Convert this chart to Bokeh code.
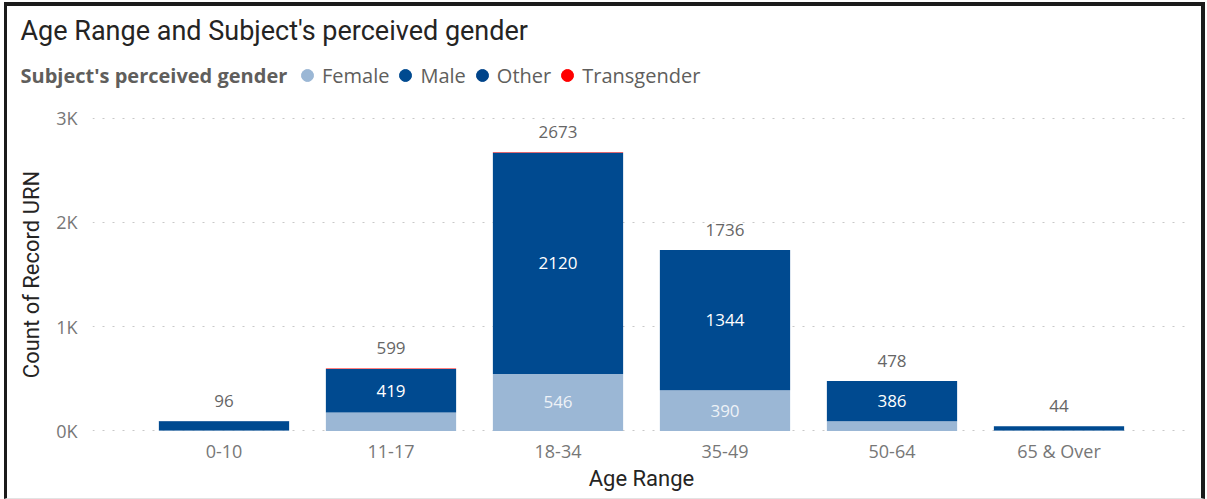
from bokeh.plotting import figure
from bokeh.layouts import column, row
from bokeh.models import (ColumnDataSource, FactorRange, Range1d, FixedTicker, Label,
                          Legend, LegendItem, LabelSet, InlineStyleSheet)
from bokeh.core.properties import value
from bokeh.embed import file_html
from bokeh.resources import INLINE

# ---- data ----
age_ranges = ["0-10", "11-17", "18-34", "35-49", "50-64", "65 & Over"]
female = [5, 176, 546, 390, 92, 4]
male = [89, 419, 2120, 1344, 386, 40]
other = [2, 0, 2, 1, 0, 0]
transgender = [0, 4, 5, 1, 0, 0]
series_names = ["Female", "Male", "Other", "Transgender"]
y_ticks = [0, 1000, 2000, 3000]
y_tick_labels = ["0K", "1K", "2K", "3K"]

colors = ["#9BB7D5", "#004A90", "#00448A", "#FF0000"]
FONT = "Open Sans"
TFONT = "Roboto"
W = 1207

totals = [f + m + o + t for f, m, o, t in zip(female, male, other, transgender)]

src = ColumnDataSource(dict(age=age_ranges, Female=female, Male=male, Other=other,
                            Transgender=transgender, total=totals,
                            total_txt=[str(v) for v in totals]))

# ---------- header (title + legend) ----------
HH = 100
hdr = figure(width=W, height=HH, x_range=Range1d(0, W), y_range=Range1d(0, HH),
             output_backend="svg", toolbar_location=None,
             x_axis_location=None, y_axis_location=None,
             min_border=0, min_border_left=0, min_border_right=0,
             min_border_top=0, min_border_bottom=0)
hdr.outline_line_color = None
hdr.grid.visible = False
hdr.add_layout(Label(x=20, y=HH - 30, text="Age Range and Subject's perceived gender",
                     text_font=TFONT, text_font_size="27px", text_color="#252423",
                     text_baseline="middle"))
hdr.add_layout(Label(x=20, y=HH - 75, text="Subject's perceived gender",
                     text_font=FONT, text_font_style="bold", text_font_size="20px",
                     text_color="#605E5C", text_baseline="middle"))
proxies = []
for name, c in zip(series_names, colors):
    # invisible stand-ins, only used to draw the round legend keys
    r = hdr.scatter(x="total", y=name, source=src, marker="circle", color=c, visible=False)
    proxies.append(r)
legend = Legend(items=[LegendItem(label=n, renderers=[r]) for n, r in zip(series_names, proxies)],
                orientation="horizontal", location=(292, HH - 75 - 16),
                glyph_width=30, glyph_height=32, label_standoff=0, spacing=1,
                padding=0, margin=0, border_line_color=None, background_fill_alpha=0,
                label_text_font=FONT, label_text_font_size="20px", label_text_color="#605E5C",
                click_policy="none")
hdr.add_layout(legend, "center")

# ---------- main chart ----------
p = figure(x_range=FactorRange(*age_ranges, range_padding=0.0958),
           y_range=Range1d(-15, 3015),
           width=W, height=499 - HH, output_backend="svg", toolbar_location=None,
           min_border_left=92, min_border_right=17, min_border_top=16, min_border_bottom=67)
p.outline_line_color = None

rs = p.vbar_stack(series_names, x="age", width=0.78, color=colors, line_color=None, source=src)

# segment labels (shown where segment is tall enough)
THRESH = 300
seg_x, seg_y, seg_t, seg_c = [], [], [], []
for a, f, m in zip(age_ranges, female, male):
    if f >= THRESH:
        seg_x.append(a); seg_y.append(f / 2); seg_t.append(str(f)); seg_c.append("#EEF2F7")
    if m >= THRESH:
        seg_x.append(a); seg_y.append(f + m / 2); seg_t.append(str(m)); seg_c.append("#FFFFFF")
seg_src = ColumnDataSource(dict(x=seg_x, y=seg_y, t=seg_t, c=seg_c))
p.add_layout(LabelSet(x="x", y="y", text="t", source=seg_src, text_color="c",
                      text_align="center", text_baseline="middle",
                      text_font=value(FONT), text_font_size="17px"))

p.add_layout(LabelSet(x="age", y="total", text="total_txt", source=src, y_offset=20,
                      text_align="center", text_baseline="middle", text_color="#666666",
                      text_font=value(FONT), text_font_size="17px"))

# axes
p.xaxis.axis_label = "Age Range"
p.yaxis.axis_label = "Count of Record URN"
for ax in (p.xaxis, p.yaxis):
    ax.axis_line_color = None
    ax.major_tick_line_color = None
    ax.minor_tick_line_color = None
    ax.major_tick_out = 0
    ax.major_tick_in = 0
    ax.minor_tick_out = 0
    ax.major_label_text_font = FONT
    ax.major_label_text_font_size = "18px"
    ax.major_label_text_color = "#777777"
    ax.axis_label_text_font = TFONT
    ax.axis_label_text_font_size = "22px"
    ax.axis_label_text_font_style = "normal"
    ax.axis_label_text_color = "#252423"
p.yaxis.ticker = FixedTicker(ticks=y_ticks)
p.yaxis.major_label_overrides = {t: l for t, l in zip(y_ticks, y_tick_labels)}
p.yaxis.major_label_standoff = 15
p.yaxis.axis_label_standoff = 9
p.xaxis.major_label_standoff = 6
p.xaxis.axis_label_standoff = 0

p.xgrid.grid_line_color = None
p.ygrid.ticker = FixedTicker(ticks=y_ticks)
p.ygrid.grid_line_color = "#C8C8C8"
p.ygrid.grid_line_dash = "2 8"
p.ygrid.grid_line_width = 1

# thin dark frame around the visual, drawn over the content without affecting layout
frame_css = InlineStyleSheet(css="""
:host::after {
  content: "";
  position: absolute;
  left: 4px; top: 2px; width: 1201px; height: 497px;
  box-sizing: border-box;
  border-left: 3px solid #1b1b1b;
  border-top: 4px solid #1b1b1b;
  border-right: 4px solid #1b1b1b;
  border-bottom: 1px solid #e3e3e3;
  pointer-events: none;
}
""")

layout = column(row(hdr), row(p), spacing=0, stylesheets=[frame_css])
open("out.html", "w").write(file_html(layout, INLINE))
